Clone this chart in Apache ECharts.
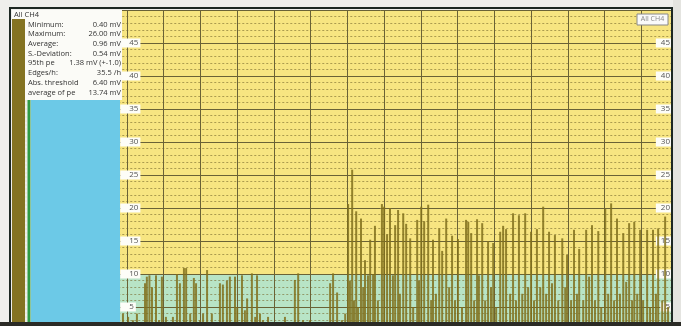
<!DOCTYPE html>
<html><head><meta charset="utf-8">
<script src="https://cdn.jsdelivr.net/npm/echarts@6/dist/echarts.min.js"></script>
<style>html,body{margin:0;padding:0;background:#efefec;overflow:hidden}#c{width:681px;height:340px}</style>
</head><body><div id="c"></div>
<script>
// time (min) of each detected edge / spike
const times = [-1.1,0.3,1.6,2.7,3.8,4.9,5.4,6.1,6.8,7.9,8.7,9.5,10.6,11.7,12.5,13.6,14.4,15.5,16.1,17.2,18.2,18.8,19.9,20.7,21.8,23.1,24.2,25.3,26.1,27.2,28.0,29.4,30.0,31.3,32.1,32.7,34.0,34.9,35.4,36.2,37.0,38.4,39.8,41.1,43.0,44.4,45.7,46.6,47.9,49.8,51.7,53.4,55.3,56.1,57.2,58.5,
59.4,60.2,60.7,61.3,61.8,62.4,62.9,63.7,64.3,64.8,65.6,66.2,67.0,67.5,68.3,69.4,70.0,70.8,71.6,72.4,73.0,73.8,74.3,75.2,76.0,77.1,77.9,79.0,79.5,80.1,80.9,82.0,82.8,83.3,84.1,85.0,85.8,86.9,87.7,88.5,89.3,90.1,91.2,92.3,92.9,93.7,94.5,95.3,95.8,96.7,97.5,98.3,99.1,99.7,100.5,101.6,102.4,103.2,104.3,105.1,105.9,106.7,107.6,108.4,109.2,110.0,110.8,111.6,112.5,113.3,114.1,114.9,115.7,116.5,117.4,118.5,119.3,119.8,120.9,121.7,122.5,123.1,124.2,125.0,125.8,126.6,127.4,128.3,129.1,130.2,131.0,131.8,132.6,133.4,134.2,135.1,135.9,136.7,137.5,138.1,138.9,139.7,140.5,141.6,142.4,143.2,144.0,144.6,145.7,146.5,147.3];
// CH4 signal (mV)
const values = [4,3.5,3,4,2.5,8.6,9.6,9.8,8,9.8,3,9.6,3.5,2.5,3.5,10,8.6,10.9,10.9,4,9.4,8.6,3,4,10.6,4,2.5,8.6,8.4,9,9.6,9.6,5,9.8,4.5,6.3,10.1,3.5,9.8,4,3,3.5,2.5,2,3.5,2,9.1,10.1,3,3,2.5,2,8.6,10.1,7.2,3,
4,20.6,9,25.8,6,19.5,5,18.4,8,12.1,9.8,15.2,10,17.3,6,20.6,20.2,16,20,9.8,17.4,19.7,7,19.2,17.6,15.4,5,18.2,9,20.2,18,20.5,6,15.2,7,16.9,13.5,18.4,8,15.8,6,15.3,5,18.2,17.9,16.2,6,18.3,9.8,17.7,6,15,8,14.7,5,16.4,17.3,16.8,7,19.2,6,18.9,7,19.2,8,16.4,6,16.8,8,20.2,7,16.4,8.6,15.9,6,15.4,8,12.9,6,16.7,7,13.8,6,16.7,9.6,17.4,6,16.5,5,19.9,7,20.7,6,18.4,7,16.2,8.8,17.7,6,17.9,7,16.7,6,16.7,5,16.7,7,16.9,6,18.7,5];
const yTicks = [0,5,10,15,20,25,30,35,40,45,50];
const bandColors = ['#b8e4c6','#b8e4c6','#f7e581','#f7e581','#f7e581','#f7e581','#f7e581','#f7e581','#f7e581','#f7e581'];
const statLabels = ['Minimum:','Maximum:','Average:','S.-Deviation:','95th pe','Edges/h:','Abs. threshold','average of pe'];
const statValues = ['0.40 mV','26.00 mV','0.96 mV','0.54 mV','1.38 mV (+-1.0)','35.5 /h','6.40 mV','13.74 mV'];
const channel = 'All CH4';

const data = times.map((t,i)=>[t, values[i]]);
const chart = echarts.init(document.getElementById('c'), null, {renderer:'canvas'});
const gridLine = {color:'#6a6236', width:1};
const font = '"Open Sans", "DejaVu Sans", sans-serif';
const g = [
  {type:'rect', shape:{x:10,y:8,width:662,height:330}, style:{fill:'none', stroke:'#1d2823', lineWidth:2}, z:100},
  {type:'rect', shape:{x:12,y:10,width:110,height:90}, style:{fill:'#fbfbf7'}, z:101},
  {type:'rect', shape:{x:12,y:19,width:13,height:310}, style:{fill:'#847322'}, z:102},
  {type:'rect', shape:{x:31,y:100,width:89,height:230}, style:{fill:'#6cc9e7'}, z:101},
  {type:'rect', shape:{x:27.5,y:100,width:3,height:230}, style:{fill:'#2f9a45'}, z:102},
  {type:'line', shape:{x1:26,y1:100,x2:26,y2:326}, style:{stroke:'#e6e6d0', lineWidth:1, lineDash:[2,2]}, z:103},
  {type:'text', x:14, y:11, style:{text:channel, fill:'#333', font:'7.5px '+font}, z:103},
  {type:'rect', shape:{x:637,y:14,width:31,height:11}, style:{fill:'#fafafa', stroke:'#888', lineWidth:1}, z:103},
  {type:'text', x:652.5, y:15.5, style:{text:channel, fill:'#888', font:'7px '+font, align:'center'}, z:104},
  {type:'rect', shape:{x:0,y:322,width:681,height:18}, style:{fill:'#2b2b26'}, z:105},
  {type:'rect', shape:{x:673,y:0,width:8,height:340}, style:{fill:'#e4e4e0'}, z:99}
];
statLabels.forEach((l,i)=>{
  const y = 20.5 + i*9.7;
  g.push({type:'text', x:28, y:y, style:{text:l, fill:'#333', font:'7.5px '+font}, z:104});
  g.push({type:'text', x:121, y:y, style:{text:statValues[i], fill:'#333', font:'7.5px '+font, align:'right'}, z:104});
});
chart.setOption({
  animation:false,
  backgroundColor:'#efefec',
  grid:{left:90.27, right:10, top:10, bottom:0, containLabel:false},
  xAxis:{type:'value', min:-10, max:148.1, interval:10,
    axisLine:{show:false}, axisTick:{show:false}, axisLabel:{show:false},
    splitLine:{show:true, lineStyle:gridLine}},
  yAxis:[
    {type:'value', min:yTicks[0], max:yTicks[yTicks.length-1], interval:5, position:'left',
      axisLine:{show:false}, axisTick:{show:false},
      axisLabel:{inside:true, margin:30, showMaxLabel:false, showMinLabel:false, color:'#555', fontSize:8, fontFamily:font,
        backgroundColor:'#fdfdf8', padding:[1,2,0,9]},
      splitLine:{show:true, lineStyle:gridLine},
      splitArea:{show:true, areaStyle:{color:bandColors}},
      minorTick:{show:false, splitNumber:5},
      minorSplitLine:{show:true, lineStyle:{color:'rgba(120,105,45,0.6)', width:1, type:[2,2]}}},
    {type:'value', min:yTicks[0], max:yTicks[yTicks.length-1], interval:5, position:'right',
      axisLine:{show:false}, axisTick:{show:false},
      axisLabel:{inside:true, margin:0, showMaxLabel:false, showMinLabel:false, color:'#555', fontSize:8, fontFamily:font,
        backgroundColor:'#fdfdf8', padding:[1,1,0,5]},
      splitLine:{show:false}}
  ],
  series:[{type:'bar', data:data, barWidth:2, itemStyle:{color:'rgba(128,112,28,0.85)'}, z:3}],
  graphic:g
});
</script></body></html>
